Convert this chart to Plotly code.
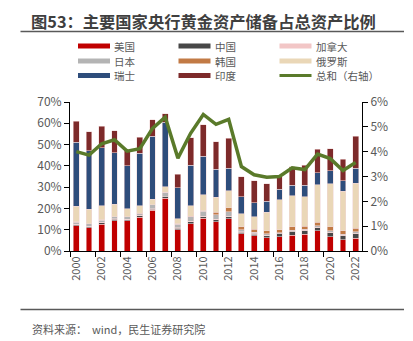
import plotly.graph_objects as go

years = list(range(2000, 2023))

series_names = ["美国", "中国", "加拿大", "日本", "韩国", "俄罗斯", "瑞士", "印度"]
series_colors = ["#C00000", "#474747", "#F2C6C6", "#B4B4B4", "#C27A45", "#EAD7B7", "#2E4D7B", "#7D2A2A"]

usa = [11.9, 10.9, 12.5, 14.1, 14.1, 15.8, 19.1, 24.9, 10.1, 12.9, 15.3, 13.8, 15.1, 8.1, 7.1, 6.2, 6.7, 7.5, 7.9, 9.4, 6.7, 5.2, 5.9]
china = [0.5, 0.6, 0.8, 0.8, 0.7, 0.8, 0.6, 0.5, 0.7, 0.8, 0.9, 1.0, 1.0, 0.8, 0.8, 1.0, 1.4, 1.5, 1.8, 1.7, 2.0, 2.1, 2.4]
canada = [0.2, 0.2, 0.2, 0.2, 0.2, 0.2, 0.2, 0.2, 0.2, 0.2, 0.2, 0.2, 0.2, 0.1, 0.1, 0.1, 0.1, 0.1, 0.1, 0.1, 0.1, 0.1, 0.1]
japan = [1.0, 1.0, 1.0, 0.9, 1.0, 0.8, 1.8, 1.9, 1.5, 2.1, 2.2, 2.0, 2.1, 1.0, 0.9, 0.8, 0.4, 0.7, 0.5, 0.6, 0.6, 0.5, 0.6]
korea = [0.1, 0.1, 0.1, 0.1, 0.1, 0.1, 0.1, 0.2, 0.2, 0.3, 0.3, 1.2, 2.0, 1.4, 1.4, 1.3, 1.5, 1.6, 1.3, 1.7, 2.0, 1.5, 1.8]
russia = [7.4, 6.8, 6.6, 5.9, 3.7, 3.5, 2.6, 2.5, 2.4, 5.0, 7.5, 7.0, 7.9, 6.2, 5.8, 8.8, 14.0, 14.6, 14.0, 17.7, 20.3, 18.6, 21.0]
swiss = [30.1, 27.4, 27.4, 24.1, 20.3, 24.7, 29.4, 30.3, 14.6, 19.0, 18.2, 13.3, 10.5, 7.8, 6.5, 5.1, 5.0, 4.9, 5.3, 5.6, 6.0, 5.0, 7.1]
india = [9.7, 9.0, 10.0, 10.4, 7.4, 7.6, 7.8, 4.0, 6.3, 12.8, 14.8, 12.8, 14.1, 9.6, 10.5, 8.2, 5.7, 8.7, 9.5, 11.0, 10.4, 10.1, 14.9]

total_name = "总和（右轴）"
total_color = "#5A7A2A"
total = [4.0, 3.86, 4.32, 4.48, 4.02, 4.12, 4.94, 5.39, 3.74, 4.74, 5.5, 5.1, 5.3, 3.4, 3.07, 2.97, 3.0, 3.35, 3.28, 3.9, 3.72, 3.24, 3.56]

left_ticks = [0, 10, 20, 30, 40, 50, 60, 70]
right_ticks = [0, 1, 2, 3, 4, 5, 6]
x_label_years = list(range(2000, 2023, 2))
x_tick_marks = [y - 0.5 for y in range(2000, 2023, 2)]

title_text = "图53：主要国家央行黄金资产储备占总资产比例"
source_text = "资料来源：  wind，民生证券研究院"

all_series = [usa, china, canada, japan, korea, russia, swiss, india]

W, H = 413, 341
ML, MR, MT, MB = 70, 51, 102, 90
PW = W - ML - MR
PH = H - MT - MB

def px(x):
    return (x - ML) / PW

def py(y):
    return (H - MB - y) / PH

FONT = "Noto Sans CJK SC"
GREY = "#595959"

fig = go.Figure()
for name, color, vals in zip(series_names, series_colors, all_series):
    fig.add_trace(go.Bar(
        x=years, y=vals, name=name, marker_color=color,
        marker_line=dict(color="rgba(240,214,214,0.9)", width=0.6),
        width=0.46, showlegend=False, yaxis="y",
    ))
fig.add_trace(go.Scatter(
    x=years, y=total, name=total_name, mode="lines",
    line=dict(color=total_color, width=3.5), yaxis="y2", showlegend=False,
))

fig.update_layout(
    width=W, height=H, barmode="stack",
    margin=dict(l=ML, r=MR, t=MT, b=MB),
    paper_bgcolor="white", plot_bgcolor="white",
    font=dict(family=FONT, color=GREY, size=11),
    xaxis=dict(
        range=[1999.5, 2022.5], tickmode="array", tickvals=x_label_years,
        ticktext=[str(y) for y in x_label_years], tickangle=-90,
        ticks="", showline=True, linecolor="black", linewidth=1,
        showgrid=False, zeroline=False, tickfont=dict(size=11, color=GREY),
        minor=dict(tickmode="array", tickvals=x_tick_marks, ticks="outside",
                   ticklen=5, tickcolor="black", tickwidth=1, showgrid=False),
    ),
    yaxis=dict(
        range=[0, 70], tickmode="array", tickvals=left_ticks,
        ticktext=[f"{v}%" for v in left_ticks], ticks="outside", ticklen=5,
        tickcolor="black", showline=True, linecolor="black", linewidth=1,
        showgrid=False, zeroline=False, tickfont=dict(size=12, color=GREY),
    ),
    yaxis2=dict(
        range=[0, 6], overlaying="y", side="right", tickmode="array",
        tickvals=right_ticks, ticktext=[f"{v}%" for v in right_ticks],
        ticks="outside", ticklen=5, tickcolor="black", showline=True,
        linecolor="black", linewidth=1, showgrid=False, zeroline=False,
        tickfont=dict(size=12, color=GREY),
    ),
)

shapes = []
annotations = []
# title and rules
annotations.append(dict(x=px(29), y=py(20.5), xref="paper", yref="paper",
                        text=f"<b>{title_text}</b>", showarrow=False, xanchor="left",
                        yanchor="middle", font=dict(size=16.3, color="#3F3F3F", family=FONT)))
shapes.append(dict(type="line", xref="paper", yref="paper", x0=px(20.5), x1=px(404),
                   y0=py(31.5), y1=py(31.5), line=dict(color="#595959", width=1.3)))
shapes.append(dict(type="line", xref="paper", yref="paper", x0=px(20.5), x1=px(404),
                   y0=py(309.5), y1=py(309.5), line=dict(color="#595959", width=1.3)))
annotations.append(dict(x=px(30), y=py(329), xref="paper", yref="paper",
                        text=source_text, showarrow=False, xanchor="left", yanchor="middle",
                        font=dict(size=11, color=GREY, family=FONT)))

# legend drawn manually
leg_names = series_names + [total_name]
leg_colors = series_colors + [total_color]
col_x = [78, 178.5, 279.5]
row_y = [46, 61, 75.5]
for i, (nm, colr) in enumerate(zip(leg_names, leg_colors)):
    r, c = divmod(i, 3)
    x0 = col_x[c]
    yc = row_y[r]
    if nm == total_name:
        shapes.append(dict(type="line", xref="paper", yref="paper", x0=px(x0), x1=px(x0 + 32),
                           y0=py(yc), y1=py(yc), line=dict(color=colr, width=3)))
    else:
        shapes.append(dict(type="rect", xref="paper", yref="paper", x0=px(x0), x1=px(x0 + 32),
                           y0=py(yc - 2.5), y1=py(yc + 2.5), fillcolor=colr,
                           line=dict(width=0)))
    annotations.append(dict(x=px(x0 + 34), y=py(yc), xref="paper", yref="paper", text=nm,
                            showarrow=False, xanchor="left", yanchor="middle",
                            font=dict(size=10.5, color=GREY, family=FONT)))

fig.update_layout(shapes=shapes, annotations=annotations)
fig.write_html("out.html")
